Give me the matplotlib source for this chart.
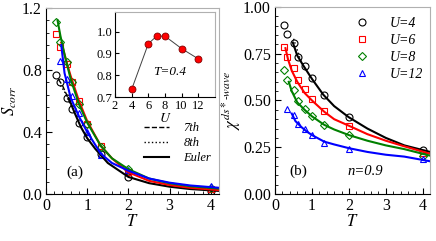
import numpy as np
import matplotlib
matplotlib.use("Agg")
import matplotlib.pyplot as plt
from matplotlib.ticker import MultipleLocator, FormatStrFormatter
from matplotlib.lines import Line2D

plt.rcParams['font.family'] = ['Liberation Serif', 'DejaVu Serif']
plt.rcParams['mathtext.fontset'] = 'stix'

# ---- data, panel (a)
T_pts = [0.25, 0.33, 0.5, 0.625, 0.8, 1.0, 1.33, 2.0, 4.0]
Sa_u4 = [0.77, 0.72, 0.62, 0.55, 0.46, 0.37, 0.26, 0.11, 0.02]
Sa_u6 = [1.03, 0.95, 0.84, 0.72, 0.60, 0.45, 0.31, 0.14, 0.03]
Sa_u8 = [1.11, 0.98, 0.85, 0.72, 0.58, 0.45, 0.30, 0.16, 0.04]
Sa_u12 = [np.nan, 0.86, 0.74, 0.63, 0.52, 0.40, 0.25, 0.155, 0.05]

Te_a4 = [0.55, 0.7, 0.85, 1.0, 1.2, 1.5, 2.0, 2.5, 3.0, 3.5, 4.2]
Se_a4 = [0.62, 0.52, 0.43, 0.36, 0.29, 0.20, 0.11, 0.07, 0.047, 0.032, 0.02]
Te_a6 = [0.4, 0.5, 0.6, 0.8, 1.0, 1.33, 1.6, 2.0, 2.5, 3.0, 3.5, 4.2]
Se_a6 = [0.95, 0.85, 0.76, 0.60, 0.47, 0.31, 0.23, 0.14, 0.085, 0.058, 0.04, 0.025]
Te_a8 = [0.28, 0.35, 0.45, 0.6, 0.8, 1.0, 1.33, 1.6, 2.0, 2.5, 3.0, 3.5, 4.2]
Se_a8 = [1.12, 1.02, 0.90, 0.74, 0.58, 0.46, 0.31, 0.23, 0.16, 0.10, 0.069, 0.05, 0.035]
Te_a12 = [0.37, 0.45, 0.6, 0.8, 1.0, 1.33, 1.6, 2.0, 2.5, 3.0, 3.5, 4.2]
Se_a12 = [0.96, 0.78, 0.62, 0.50, 0.40, 0.26, 0.20, 0.15, 0.10, 0.073, 0.055, 0.04]

# 7th / 8th order partial sums at low T
T7_a = [0.3, 0.4, 0.5, 0.6]
S7_a4 = [0.74, 0.70, 0.64, 0.58]
T8_a = [0.35, 0.45, 0.55, 0.65]
S8_a4 = [0.70, 0.66, 0.60, 0.55]
S8_a6 = [0.98, 0.90, 0.80, 0.71]

# inset
U_in = [4, 6, 7, 8, 10, 12]
S_in = [0.735, 0.944, 0.979, 0.979, 0.922, 0.875]

# ---- data, panel (b)
T_b = [0.25, 0.33, 0.5, 0.625, 0.8, 1.0, 1.33, 2.0, 4.0]
X_u4 = [0.905, 0.855, 0.81, 0.735, 0.685, 0.62, 0.53, 0.41, 0.235]
X_u6 = [0.785, 0.73, 0.675, 0.61, 0.56, 0.51, 0.445, 0.365, 0.22]
X_u8 = [0.665, 0.61, 0.555, 0.495, 0.455, 0.415, 0.37, 0.315, 0.205]
X_u12 = [np.nan, 0.455, 0.42, 0.375, 0.35, 0.315, 0.275, 0.24, 0.185]

Te_b4 = [0.48, 0.6, 0.77, 1.0, 1.31, 1.6, 2.0, 2.5, 3.0, 3.5, 4.2]
Xe_b4 = [0.81, 0.74, 0.685, 0.615, 0.53, 0.47, 0.41, 0.35, 0.30, 0.26, 0.225]
Te_b6 = [0.28, 0.35, 0.45, 0.6, 0.8, 1.0, 1.33, 1.6, 2.0, 2.5, 3.0, 3.5, 4.2]
Xe_b6 = [0.78, 0.72, 0.66, 0.60, 0.54, 0.50, 0.44, 0.40, 0.365, 0.32, 0.285, 0.255, 0.215]
Te_b8 = [0.37, 0.45, 0.6, 0.8, 1.0, 1.33, 1.6, 2.0, 2.5, 3.0, 3.5, 4.2]
Xe_b8 = [0.60, 0.55, 0.49, 0.45, 0.415, 0.37, 0.345, 0.315, 0.285, 0.26, 0.24, 0.205]
Te_b12 = [0.45, 0.55, 0.7, 0.85, 1.0, 1.33, 1.6, 2.0, 2.5, 3.0, 3.5, 4.2]
Xe_b12 = [0.43, 0.39, 0.36, 0.335, 0.315, 0.28, 0.265, 0.245, 0.225, 0.21, 0.20, 0.175]

T8_b = [0.5, 0.6, 0.7]
X8_b4 = [0.83, 0.77, 0.71]

cols = ['black', 'red', 'green', 'blue']
mk = ['o', 's', 'D', '^']
ulabels = ['U=4', 'U=6', 'U=8', 'U=12']

fig = plt.figure(figsize=(4.36, 2.41), dpi=100)
ax1 = fig.add_axes([0.1055, 0.195, 0.397, 0.772])
ax2 = fig.add_axes([0.631, 0.195, 0.3555, 0.776])

def style(ax):
    ax.tick_params(which='both', direction='in', labelsize=11.5, pad=3)
    ax.tick_params(which='major', length=4)
    ax.tick_params(which='minor', length=2)
    for s in ['top', 'right']:
        ax.spines[s].set_color('#b0b0b0')
    ax.tick_params(top=False, right=False)

# ---- panel (a)
for Sp, c, m in zip([Sa_u4, Sa_u6, Sa_u8, Sa_u12], cols, mk):
    ax1.plot(T_pts, Sp, ls='none', marker=m, mfc='none', mec=c, ms=5 if m != 'D' else 4, mew=0.8)
ax1.plot(T7_a, S7_a4, c='black', ls='--', lw=1)
ax1.plot(T8_a, S8_a4, c='black', ls=':', lw=1)
ax1.plot(T8_a, S8_a6, c='red', ls=':', lw=1)
for Te, Se, c in zip([Te_a4, Te_a6, Te_a8, Te_a12], [Se_a4, Se_a6, Se_a8, Se_a12], cols):
    ax1.plot(Te, Se, c=c, lw=1.5)
ax1.set_xlim(0, 4.2)
ax1.set_ylim(0, 1.2)
ax1.xaxis.set_major_locator(MultipleLocator(1))
ax1.xaxis.set_minor_locator(MultipleLocator(0.2))
ax1.yaxis.set_major_locator(MultipleLocator(0.4))
ax1.yaxis.set_minor_locator(MultipleLocator(0.08))
ax1.yaxis.set_major_formatter(FormatStrFormatter('%.1f'))
style(ax1)
ax1.set_xlabel('$T$', fontsize=12, labelpad=0)
ax1.set_ylabel('$S_{corr}$', fontsize=12, labelpad=2)
ax1.text(0.12, 0.1, '(a)', transform=ax1.transAxes, fontsize=11)
hand = [Line2D([], [], c='black', ls='--', lw=1),
        Line2D([], [], c='black', ls=':', lw=1),
        Line2D([], [], c='black', ls='-', lw=1.5)]
ax1.legend(hand, ['7th', '8th', 'Euler'], loc='lower right', bbox_to_anchor=(1.02, 0.1),
           frameon=False, prop={'style': 'italic', 'size': 9}, handlelength=2.0,
           labelspacing=0.25, handletextpad=1.2)

# inset
axi = fig.add_axes([0.2638, 0.5975, 0.229, 0.353])
axi.plot(U_in, S_in, c='#404040', lw=0.7, marker='o', mfc='red', mec='#800000', ms=5, mew=0.6)
axi.set_xlim(2, 14)
axi.set_ylim(0.7, 1.09)
axi.set_xticks([2, 4, 6, 8, 10, 12])
axi.set_yticks([0.7, 0.8, 0.9, 1.0])
axi.tick_params(direction='in', labelsize=9, length=3, pad=2)
for s in ['top', 'right']:
    axi.spines[s].set_color('#b0b0b0')
axi.set_xlabel('$U$', fontsize=10, labelpad=0)
axi.text(0.38, 0.26, 'T=0.4', transform=axi.transAxes, fontsize=9.5, style='italic')

# ---- panel (b)
for Xp, c, m, lab in zip([X_u4, X_u6, X_u8, X_u12], cols, mk, ulabels):
    ax2.plot(T_b, Xp, ls='none', marker=m, mfc='none', mec=c, ms=5 if m != 'D' else 4,
             mew=0.8, label=lab)
ax2.plot(T8_b, X8_b4, c='black', ls=':', lw=1)
for Te, Xe, c in zip([Te_b4, Te_b6, Te_b8, Te_b12], [Xe_b4, Xe_b6, Xe_b8, Xe_b12], cols):
    ax2.plot(Te, Xe, c=c, lw=1.5)
ax2.set_xlim(0, 4.2)
ax2.set_ylim(0, 1.0)
ax2.xaxis.set_major_locator(MultipleLocator(1))
ax2.xaxis.set_minor_locator(MultipleLocator(0.2))
ax2.yaxis.set_major_locator(MultipleLocator(0.25))
ax2.yaxis.set_minor_locator(MultipleLocator(0.05))
ax2.yaxis.set_major_formatter(FormatStrFormatter('%.2f'))
style(ax2)
ax2.set_xlabel('$T$', fontsize=12, labelpad=0)
ax2.set_ylabel(r'$\chi^{ds*\text{-}wave}$', fontsize=12, labelpad=0)
ax2.text(0.09, 0.1, '(b)', transform=ax2.transAxes, fontsize=11)
ax2.text(0.47, 0.1, 'n=0.9', transform=ax2.transAxes, fontsize=10.5, style='italic')
ax2.legend(loc='upper right', bbox_to_anchor=(1.02, 1.0), frameon=False,
           prop={'style': 'italic', 'size': 10}, labelspacing=0.3, handletextpad=1.0,
           borderaxespad=0.3)

fig.savefig('out.png', dpi=100)
